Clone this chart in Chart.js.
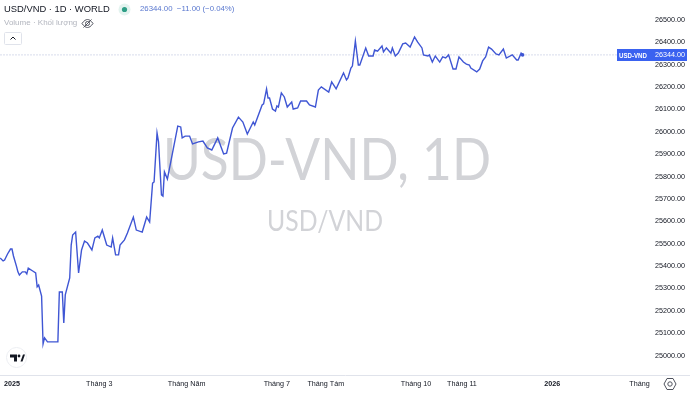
<!DOCTYPE html>
<html><head><meta charset="utf-8">
<script src="https://cdn.jsdelivr.net/npm/chart.js@4"></script>
<style>
html,body{margin:0;padding:0;background:#fff;overflow:hidden}
#wrap{position:relative;width:690px;height:393px;font-family:"Liberation Sans",sans-serif}
canvas{position:absolute;left:0;top:0}
.t{position:absolute;white-space:nowrap;line-height:1}
svg{position:absolute}
</style></head><body>
<div id="wrap">
<canvas id="c" width="690" height="393"></canvas>
<div class="t" style="left:4px;top:4px;font-size:9.4px;color:#131722">USD/VND · 1D · WORLD</div>
<svg style="left:118px;top:3px" width="13" height="13"><circle cx="6.5" cy="6.5" r="6" fill="#e3f3ef"/><circle cx="6.5" cy="6.5" r="2.6" fill="#2e9e86"/></svg>
<div class="t" style="left:140px;top:5px;font-size:7.8px;color:#5a78cf">26344.00 &nbsp;−11.00 (−0.04%)</div>
<div class="t" style="left:4px;top:19px;font-size:8px;color:#b2b5be">Volume · Khối lượng</div>
<svg style="left:81px;top:18px" width="13" height="11" viewBox="0 0 13 11"><path d="M1 5.5C3 2.5 5 1.5 6.5 1.5S10 2.5 12 5.5C10 8.5 8 9.5 6.5 9.5S3 8.5 1 5.5Z" fill="none" stroke="#50535e" stroke-width="1"/><circle cx="6.5" cy="5.5" r="2" fill="none" stroke="#50535e"/><path d="M2.5 9.5L10.5 1.5" stroke="#50535e"/></svg>
<svg style="left:4px;top:32px" width="18" height="13"><rect x=".5" y=".5" width="17" height="12" rx="1" fill="#fff" stroke="#e0e3eb"/><path d="M6.5 7.5L9 5L11.5 7.5" fill="none" stroke="#131722" stroke-width="1"/></svg>
<svg style="left:6px;top:347px" width="21" height="21"><circle cx="10.5" cy="10.5" r="10" fill="#fff" stroke="#eceef2"/><path d="M4 7.5H11V14.5H8V10.5H4Z" fill="#131722"/><circle cx="13" cy="9" r="1.4" fill="#131722"/><path d="M14.5 14.5L17 7.5H19L16.5 14.5Z" fill="#131722"/></svg>
<svg style="left:663px;top:377px" width="14" height="14"><path d="M4 1.5H10L13 7L10 12.5H4L1 7Z" fill="none" stroke="#50535e" stroke-width="1"/><circle cx="7" cy="7" r="2.2" fill="none" stroke="#50535e"/></svg>
</div>
<script>
const days = [-8,-6,-5,-3,-1,0,1,3,4,5,7,9,10,11,14,16,17,18,20,21,22,24,31,32,34,35,36,39,40,41,43,45,47,49,51,54,56,58,59,61,64,67,68,70,72,73,76,78,82,84,88,91,93,95,96,98,99,101,102,103,105,112,114,115,117,120,122,126,129,132,135,139,143,145,149,153,156,159,163,164,169,170,172,173,174,176,178,179,180,182,184,186,189,190,193,195,199,201,205,207,209,214,216,219,224,226,227,229,230,232,234,235,239,241,244,245,247,250,251,253,256,257,259,261,264,266,269,272,274,277,278,281,282,284,286,289,291,293,295,298,300,302,305,307,309,310,314,316,318,320,322,324,327,329,332,334,338,341,342,344,345];
const prices = [25436,25423,25427,25454,25476,25476,25445,25400,25374,25360,25374,25374,25365,25391,25378,25369,25307,25315,25266,25052,25079,25061,25061,25284,25284,25146,25271,25347,25494,25539,25552,25369,25472,25512,25503,25472,25526,25534,25526,25561,25494,25485,25526,25450,25450,25494,25517,25548,25619,25561,25552,25619,25597,25771,25776,25995,25955,25718,25713,25821,25789,26026,26022,25973,25981,25981,25946,25955,25959,25928,25919,25973,25901,25905,26017,26066,26044,25990,26044,26031,26120,26125,26192,26151,26151,26102,26093,26116,26111,26174,26156,26111,26133,26102,26107,26138,26138,26120,26111,26187,26201,26178,26223,26192,26263,26232,26241,26285,26294,26406,26299,26299,26375,26339,26339,26366,26361,26384,26357,26375,26352,26375,26339,26352,26393,26397,26379,26424,26402,26375,26344,26339,26344,26312,26339,26312,26335,26330,26344,26281,26281,26335,26312,26303,26299,26285,26268,26281,26317,26335,26379,26370,26348,26344,26370,26330,26344,26321,26321,26352,26344];
const xTickDays = [0,59,118,179,212,273,304,365,424];
const xTickLabels = ["2025","Tháng 3","Tháng Năm","Tháng 7","Tháng Tám","Tháng 10","Tháng 11","2026","Tháng"];
const yTicks = [25000,25100,25200,25300,25400,25500,25600,25700,25800,25900,26000,26100,26200,26300,26400,26500];
const lastPrice = 26344;
const symbol = "USD-VND";
const watermark1 = "USD-VND, 1D";
const watermark2 = "USD/VND";
const xMin=-8.1,xMax=458.1,yMin=24913,yMax=26589.4,priceLineEnd=408.8;

const wm={id:'wm',beforeDatasetsDraw(ch){const g=ch.ctx;g.save();g.fillStyle='#d2d3d7';g.textAlign='center';g.textBaseline='alphabetic';
 g.font='58px Lato';g.fillText(watermark1,327,180,328);
 g.font='28px Lato';g.fillText(watermark2,325,231,116);g.restore();}};
const tag={id:'tag',afterDraw(ch){const g=ch.ctx,y=Math.round(ch.scales.y.getPixelForValue(lastPrice));g.save();
 g.fillStyle='#3a62f0';g.fillRect(617,y-6,70,12);g.fillStyle='#fff';g.textBaseline='middle';
 g.font='bold 7.5px "Liberation Sans"';g.textAlign='left';g.fillText(symbol,619,y+.5,28);
 g.font='7.2px "Liberation Sans"';g.textAlign='right';g.fillText(lastPrice.toFixed(2),685,y+.5);g.restore();}};

new Chart(document.getElementById('c'),{type:'line',
 data:{datasets:[
  {data:days.map((d,i)=>({x:d,y:prices[i]})),borderColor:'#3f56d4',borderWidth:1.4,tension:0,
   pointRadius:c=>c.dataIndex===days.length-1?1.8:0,pointBackgroundColor:'#3f56d4',pointBorderWidth:0},
  {data:[{x:xMin,y:lastPrice},{x:priceLineEnd,y:lastPrice}],borderColor:'#d8dcec',borderWidth:1,pointRadius:0,borderDash:[2,1]}
 ]},
 plugins:[wm,tag],
 options:{responsive:false,animation:false,events:[],layout:{padding:0,autoPadding:false},
  plugins:{legend:{display:false},tooltip:{enabled:false}},
  scales:{
   x:{type:'linear',min:xMin,max:xMax,
    afterBuildTicks:s=>{s.ticks=xTickDays.map(v=>({value:v}));},
    afterFit:s=>{s.height=18;s.paddingLeft=0;s.paddingRight=0;},
    grid:{display:false},border:{display:true,color:'#e0e3eb'},
    ticks:{autoSkip:false,maxRotation:0,padding:-3,color:'#131722',
     callback:v=>xTickLabels[xTickDays.indexOf(v)],
     font:c=>{const l=xTickLabels[c.index]||'';return {family:'"Liberation Sans"',size:7.2,weight:/^\d+$/.test(l)?'bold':'normal'};}}},
   y:{type:'linear',position:'right',min:yMin,max:yMax,
    afterBuildTicks:s=>{s.ticks=yTicks.map(v=>({value:v}));},
    afterFit:s=>{s.paddingTop=0;s.paddingBottom=0;s.width=0;},
    grid:{display:false},border:{display:false},
    ticks:{mirror:true,padding:-5,color:'#131722',font:{family:'"Liberation Sans"',size:7.2},callback:v=>v.toFixed(2)}}
  }}});
</script></body></html>
